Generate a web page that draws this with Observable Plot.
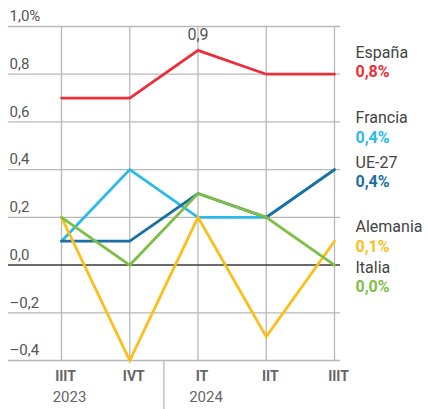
<!DOCTYPE html>
<html><head><meta charset="utf-8">
<script src="https://cdn.jsdelivr.net/npm/d3@7"></script>
<script src="https://cdn.jsdelivr.net/npm/@observablehq/plot@0.6"></script>
<style>body{margin:0;background:#fff;overflow:hidden}</style>
</head><body><div id="chart"></div>
<script>
// ---- data ----
const quarters = ["IIIT", "IVT", "IT", "IIT", "IIIT"];
const years = ["2023", "", "2024", "", ""];
const yTicks = [-0.4, -0.2, 0, 0.2, 0.4, 0.6, 0.8, 1.0];
const seriesNames = ["Francia", "UE-27", "Alemania", "Italia", "España"];
const francia = [0.1, 0.4, 0.2, 0.2, 0.4];
const ue27 = [0.1, 0.1, 0.3, 0.2, 0.4];
const alemania = [0.2, -0.4, 0.2, -0.3, 0.1];
const italia = [0.2, 0.0, 0.3, 0.2, 0.0];
const espana = [0.7, 0.7, 0.9, 0.8, 0.8];
const peakSeries = "España";
const peakIndex = 2;

// ---- styles ----
const colors = {"Francia": "#2bbbea", "UE-27": "#1b6fa3", "Alemania": "#fbbf1c", "Italia": "#7fbf45", "España": "#ec2d3a"};
const labelDy = {"España": [-21, -2], "Francia": [-52, -32], "UE-27": [-7, 12], "Alemania": [-14, 6], "Italia": [3, 22]};

const valuesBy = {"Francia": francia, "UE-27": ue27, "Alemania": alemania, "Italia": italia, "España": espana};
const rows = seriesNames.flatMap(s => valuesBy[s].map((v, i) => ({series: s, i, value: v})));
const last = quarters.length - 1;
const fmt = v => (v < 0 ? "–" : "") + Math.abs(v).toFixed(1).replace(".", ",");
const yearSeps = years.map((y, i) => (y && i > 0) ? i - 0.5 : null).filter(d => d !== null);
const idx = quarters.map((q, i) => i);
const gray = "#b8b8b8";

const labelMarks = seriesNames.flatMap(s => {
  const d = [{series: s, i: last, value: valuesBy[s][last]}];
  return [
    Plot.text(d, {x: "i", y: "value", text: "series", textAnchor: "start", dx: 21, dy: labelDy[s][0], fill: "#444", fontSize: 16}),
    Plot.text(d, {x: "i", y: "value", text: r => fmt(r.value) + "%", textAnchor: "start", dx: 21, dy: labelDy[s][1], fill: colors[s], fontSize: 16, fontWeight: "bold"})
  ];
});

const chart = Plot.plot({
  width: 427,
  height: 409,
  marginLeft: 8,
  marginRight: 87,
  marginTop: 26,
  marginBottom: 49,
  style: {fontFamily: "Roboto, 'Liberation Sans', sans-serif", background: "#fff", overflow: "visible"},
  x: {type: "linear", domain: [0, last], range: [61, 334], axis: null},
  y: {domain: [-0.4, 1.0], axis: null},
  marks: [
    Plot.ruleY(yTicks.filter(d => d !== 0), {stroke: gray, strokeWidth: 1.3}),
    Plot.ruleX(idx, {stroke: gray, strokeWidth: 1.3}),
    Plot.ruleX(yearSeps, {y1: -0.4, y2: -0.62, stroke: gray, strokeWidth: 1.3}),
    Plot.ruleY([0], {stroke: "#3a3a3a", strokeWidth: 1.5}),
    Plot.text(yTicks, {frameAnchor: "left", y: d => d, text: d => fmt(d) + (d === 1 ? "%" : ""), textAnchor: "start", dx: 1, dy: -10, fill: "#555", fontSize: 15}),
    Plot.line(rows, {x: "i", y: "value", z: "series", stroke: d => colors[d.series], strokeWidth: 2.8, strokeLinejoin: "miter", strokeMiterlimit: 10}),
    Plot.text(rows.filter(d => d.series === peakSeries && d.i === peakIndex), {x: "i", y: "value", text: d => fmt(d.value), dy: -15, fill: "#555", fontSize: 16}),
    Plot.text(idx, {x: d => d, frameAnchor: "bottom", text: d => quarters[d], dy: 20, dx: 4, fill: "#666", fontSize: 14, fontWeight: "bold"}),
    Plot.text(idx, {x: d => d, frameAnchor: "bottom", text: d => years[d], dy: 41, dx: 8, fill: "#666", fontSize: 15}),
    ...labelMarks
  ]
});
document.getElementById("chart").append(chart);
</script>
</body></html>
